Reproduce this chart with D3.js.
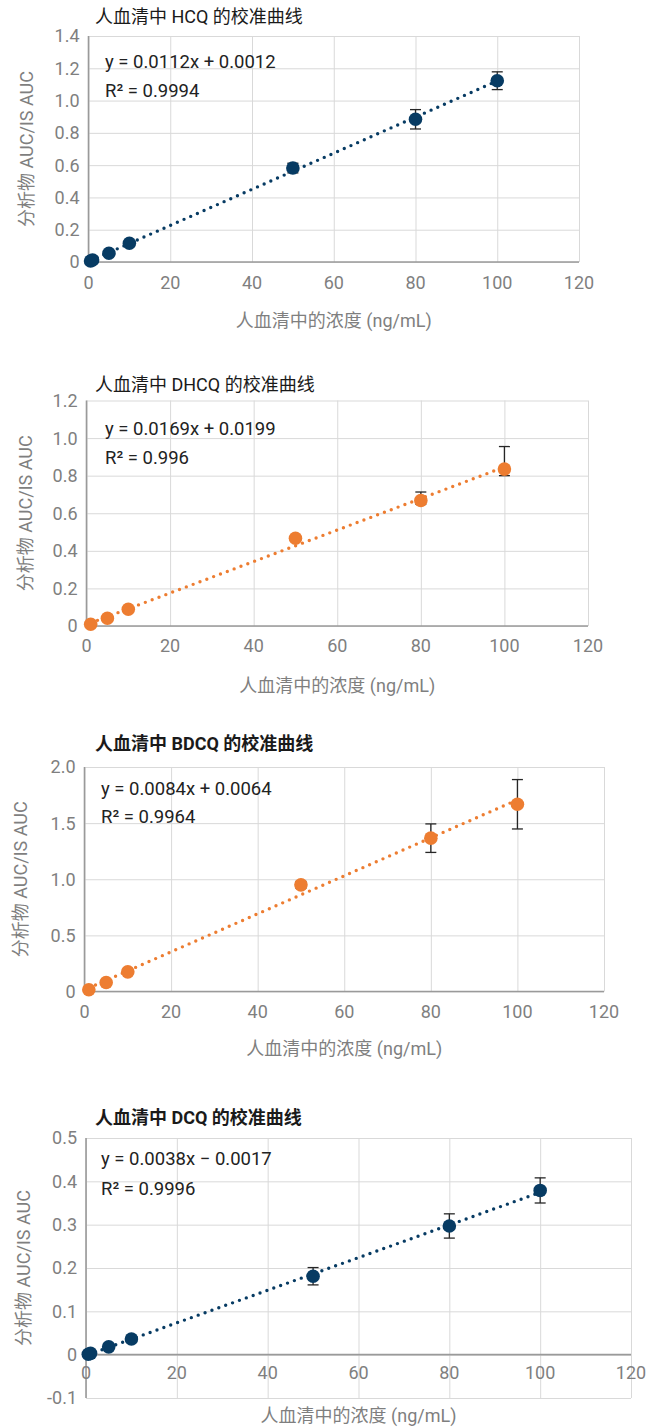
<!DOCTYPE html>
<html>
  <head>
    <meta charset="utf-8">
    <title>人血清中 校准曲线</title>
    <script src="https://d3js.org/d3.v7.min.js"></script>
    <style>
      body { margin: 0; background: #fff; }
      svg text { font-family: Roboto, "Noto Sans CJK SC", sans-serif; }
      .tick-label { fill: #7f7f7f; font-size: 18px; }
      .axis-title { fill: #7f7f7f; font-size: 18px; }
      .chart-title { fill: #1a1a1a; font-size: 18px; }
      .eq { fill: #222; font-size: 18.5px; }
    </style>
  </head>
  <body>
    <svg id="chart" width="655" height="1427"></svg>
    <script>
      // chart values
      var xTicks = [0, 20, 40, 60, 80, 100, 120];
      var xTitle = "人血清中的浓度 (ng/mL)";
      var yTitle = "分析物 AUC/IS AUC";

      var hcqX = [0.5, 1, 5, 10, 50, 80, 100];
      var hcqY = [0.006, 0.012, 0.054, 0.116, 0.582, 0.884, 1.123];
      var hcqErrUp = [0.002, 0.003, 0.006, 0.01, 0.03, 0.06, 0.055];
      var hcqErrDown = [0.002, 0.003, 0.006, 0.01, 0.03, 0.06, 0.055];
      var hcqYTicks = [0, 0.2, 0.4, 0.6, 0.8, 1.0, 1.2, 1.4];

      var dhcqX = [1, 5, 10, 50, 80, 100];
      var dhcqY = [0.009, 0.041, 0.089, 0.467, 0.668, 0.835];
      var dhcqErrUp = [0.003, 0.005, 0.008, 0.012, 0.045, 0.12];
      var dhcqErrDown = [0.003, 0.005, 0.008, 0.012, 0.02, 0.035];
      var dhcqYTicks = [0, 0.2, 0.4, 0.6, 0.8, 1.0, 1.2];

      var bdcqX = [1, 5, 10, 50, 80, 100];
      var bdcqY = [0.015, 0.08, 0.175, 0.95, 1.366, 1.668];
      var bdcqErrUp = [0.005, 0.01, 0.02, 0.03, 0.127, 0.22];
      var bdcqErrDown = [0.005, 0.01, 0.02, 0.03, 0.127, 0.22];
      var bdcqYTicks = [0, 0.5, 1.0, 1.5, 2.0];

      var dcqX = [0.5, 1, 5, 10, 50, 80, 100];
      var dcqY = [0.001, 0.003, 0.018, 0.036, 0.181, 0.297, 0.379];
      var dcqErrUp = [0.001, 0.001, 0.002, 0.004, 0.02, 0.028, 0.029];
      var dcqErrDown = [0.001, 0.001, 0.002, 0.004, 0.02, 0.028, 0.029];
      var dcqYTicks = [-0.1, 0, 0.1, 0.2, 0.3, 0.4, 0.5];

      var titles = ["人血清中 HCQ 的校准曲线", "人血清中 DHCQ 的校准曲线", "人血清中 BDCQ 的校准曲线", "人血清中 DCQ 的校准曲线"];
      var equations = ["y = 0.0112x + 0.0012", "y = 0.0169x + 0.0199", "y = 0.0084x + 0.0064", "y = 0.0038x − 0.0017"];
      var rSquared = ["R² = 0.9994", "R² = 0.996", "R² = 0.9964", "R² = 0.9996"];

      var navy = "#073b63", orange = "#ed7d31";

      var svg = d3.select("#chart");

      // least squares line like excel's linear trendline
      function fit(xs, ys) {
        var mx = d3.mean(xs), my = d3.mean(ys);
        var sxy = d3.sum(xs, function (x, i) { return (x - mx) * (ys[i] - my); });
        var sxx = d3.sum(xs, function (x) { return (x - mx) * (x - mx); });
        var b = sxy / sxx;
        return { slope: b, intercept: my - b * mx };
      }

      function fmtY(d) { return d === 0 ? "0" : d.toFixed(1); }

      function drawPanel(p) {
        var x = d3.scaleLinear().domain([0, 120]).range([p.left, p.right]);
        var y = d3.scaleLinear().domain([p.yTicks[0], p.yTicks[p.yTicks.length - 1]]).range([p.bottom, p.top]);
        var g = svg.append("g");

        // grid
        g.append("g").attr("transform", "translate(0," + p.bottom + ")")
          .call(d3.axisBottom(x).tickValues(xTicks).tickSize(-(p.bottom - p.top)).tickFormat(""))
          .call(function (a) { a.select(".domain").remove(); a.selectAll("line").attr("stroke", "#d9d9d9"); });
        g.append("g").attr("transform", "translate(" + p.left + ",0)")
          .call(d3.axisLeft(y).tickValues(p.yTicks).tickSize(-(p.right - p.left)).tickFormat(""))
          .call(function (a) { a.select(".domain").remove(); a.selectAll("line").attr("stroke", "#d9d9d9"); });

        // axis lines
        g.append("line").attr("x1", p.left).attr("x2", p.right).attr("y1", y(0)).attr("y2", y(0))
          .attr("stroke", "#9a9a9a").attr("stroke-width", 1.6);
        g.append("line").attr("x1", p.left).attr("x2", p.left).attr("y1", p.top).attr("y2", p.bottom)
          .attr("stroke", "#9a9a9a").attr("stroke-width", 1.6);

        // tick labels
        g.selectAll(".ylab").data(p.yTicks).enter().append("text")
          .attr("class", "tick-label").attr("text-anchor", "end")
          .attr("x", p.left - 9).attr("y", function (d) { return y(d); }).attr("dy", "0.36em")
          .text(fmtY);
        g.selectAll(".xlab").data(xTicks).enter().append("text")
          .attr("class", "tick-label").attr("text-anchor", "middle")
          .attr("x", function (d) { return x(d); }).attr("y", y(0) + p.xLabOff)
          .text(function (d) { return d; });

        // titles
        g.append("text").attr("class", "chart-title").attr("x", 95).attr("y", p.titleY)
          .style("font-weight", p.bold ? 700 : 400).text(p.title);
        g.append("text").attr("class", "axis-title").attr("text-anchor", "middle")
          .attr("x", (p.left + p.right) / 2).attr("y", p.xTitleY).text(xTitle);
        g.append("text").attr("class", "axis-title").attr("text-anchor", "middle")
          .attr("transform", "translate(" + p.yTitleX + "," + (p.top + p.bottom) / 2 + ") rotate(-90)")
          .attr("dy", "0.35em").text(yTitle);

        var pts = p.xs.map(function (v, i) {
          return { x: v, y: p.ys[i], up: p.errUp[i], down: p.errDown[i] };
        });

        // trendline
        var t = fit(p.xs, p.ys);
        var x0 = d3.min(p.xs), x1 = d3.max(p.xs);
        g.append("line")
          .attr("x1", x(x0)).attr("y1", y(t.intercept + t.slope * x0))
          .attr("x2", x(x1)).attr("y2", y(t.intercept + t.slope * x1))
          .attr("stroke", p.color).attr("stroke-width", 3.4)
          .attr("stroke-linecap", "round").attr("stroke-dasharray", "0 7.3");

        // error bars
        var eb = g.selectAll(".err").data(pts).enter().append("g").attr("stroke", "#262626").attr("stroke-width", 1.3);
        eb.append("line").attr("x1", function (d) { return x(d.x); }).attr("x2", function (d) { return x(d.x); })
          .attr("y1", function (d) { return y(d.y + d.up); }).attr("y2", function (d) { return y(d.y - d.down); });
        eb.append("line").attr("x1", function (d) { return x(d.x) - 5.5; }).attr("x2", function (d) { return x(d.x) + 5.5; })
          .attr("y1", function (d) { return y(d.y + d.up); }).attr("y2", function (d) { return y(d.y + d.up); });
        eb.append("line").attr("x1", function (d) { return x(d.x) - 5.5; }).attr("x2", function (d) { return x(d.x) + 5.5; })
          .attr("y1", function (d) { return y(d.y - d.down); }).attr("y2", function (d) { return y(d.y - d.down); });

        // markers
        g.selectAll(".pt").data(pts).enter().append("circle")
          .attr("cx", function (d) { return x(d.x); }).attr("cy", function (d) { return y(d.y); })
          .attr("r", 6.8).attr("fill", p.color);

        // equation
        g.append("text").attr("class", "eq").attr("x", p.eqX).attr("y", p.eqY).text(p.eq);
        g.append("text").attr("class", "eq").attr("x", p.eqX).attr("y", p.eqY + p.eqGap).text(p.r2);
      }

      drawPanel({ xs: hcqX, ys: hcqY, errUp: hcqErrUp, errDown: hcqErrDown, yTicks: hcqYTicks, color: navy,
        title: titles[0], eq: equations[0], r2: rSquared[0], bold: false,
        left: 88.5, right: 579, top: 36, bottom: 262, titleY: 22.5, eqX: 105, eqY: 68, eqGap: 29,
        xLabOff: 27, xTitleY: 327, yTitleX: 27 });
      drawPanel({ xs: dhcqX, ys: dhcqY, errUp: dhcqErrUp, errDown: dhcqErrDown, yTicks: dhcqYTicks, color: orange,
        title: titles[1], eq: equations[1], r2: rSquared[1], bold: false,
        left: 86.5, right: 588, top: 400.5, bottom: 626, titleY: 391, eqX: 105, eqY: 435, eqGap: 29,
        xLabOff: 26, xTitleY: 692, yTitleX: 26 });
      drawPanel({ xs: bdcqX, ys: bdcqY, errUp: bdcqErrUp, errDown: bdcqErrDown, yTicks: bdcqYTicks, color: orange,
        title: titles[2], eq: equations[2], r2: rSquared[2], bold: true,
        left: 84.5, right: 604, top: 767, bottom: 991.5, titleY: 749.5, eqX: 101, eqY: 795, eqGap: 28,
        xLabOff: 26, xTitleY: 1055, yTitleX: 21 });
      drawPanel({ xs: dcqX, ys: dcqY, errUp: dcqErrUp, errDown: dcqErrDown, yTicks: dcqYTicks, color: navy,
        title: titles[3], eq: equations[3], r2: rSquared[3], bold: true,
        left: 86, right: 631, top: 1138, bottom: 1398, titleY: 1123.5, eqX: 101, eqY: 1165, eqGap: 30,
        xLabOff: 24.5, xTitleY: 1421.5, yTitleX: 24 });
    </script>
  </body>
</html>
